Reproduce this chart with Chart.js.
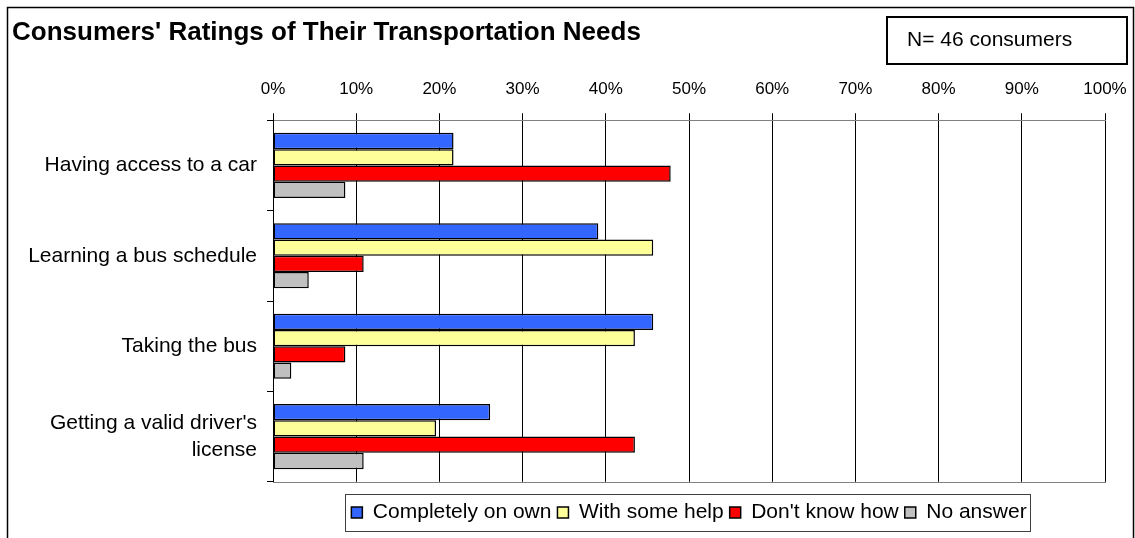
<!DOCTYPE html>
<html>
<head>
<meta charset="utf-8">
<title>Consumers' Ratings of Their Transportation Needs</title>
<script src="https://cdn.jsdelivr.net/npm/chart.js@4"></script>
<style>
  html, body { margin: 0; padding: 0; background: #fff; }
  #wrap { width: 1135px; height: 538px; }
</style>
</head>
<body>
<div id="wrap"><canvas id="transportChart"></canvas></div>
<script>
// data (percent of the 46 consumers)

const chartTitle = "Consumers' Ratings of Their Transportation Needs";
const sampleNote = "N= 46 consumers";
const categories = [
  "Having access to a car",
  "Learning a bus schedule",
  "Taking the bus",
  ["Getting a valid driver's", "license"],
];
const seriesNames = ["Completely on own", "With some help", "Don't know how", "No answer"];
const completelyOnOwn = [21.7, 39.1, 45.7, 26.1];
const withSomeHelp = [21.7, 45.7, 43.5, 19.6];
const dontKnowHow = [47.8, 10.9, 8.7, 43.5];
const noAnswer = [8.7, 4.3, 2.2, 10.9];
const xTickValues = [0, 10, 20, 30, 40, 50, 60, 70, 80, 90, 100];

const FONT = "'Liberation Sans', Arial, sans-serif";
Chart.defaults.font.family = FONT;
Chart.defaults.color = "#000";

// frames: plot area, outer border, the N box and the legend box

const framePlugin = {
  id: "frames",
  beforeDraw(chart) {
    const ctx = chart.ctx;
    const a = chart.chartArea;
    ctx.save();
    ctx.fillStyle = "#fff";
    ctx.fillRect(0, 0, chart.width, chart.height);
    ctx.strokeStyle = "#808080";
    ctx.lineWidth = 1;
    ctx.strokeRect(Math.round(a.left) + 0.5, Math.round(a.top) + 0.5,
      Math.round(a.right - a.left), Math.round(a.bottom - a.top));
    ctx.restore();
  },
  afterDraw(chart) {
    const ctx = chart.ctx;
    ctx.save();
    // outer chart border
    ctx.strokeStyle = "#000";
    ctx.lineWidth = 1.5;
    ctx.strokeRect(7.5, 7.5, 1126, 560);

    // N box
    ctx.lineWidth = 2;
    ctx.strokeRect(887, 17, 240, 47);
    ctx.fillStyle = "#000";
    ctx.font = "21px " + FONT;
    ctx.textBaseline = "middle";
    ctx.textAlign = "left";
    ctx.fillText(sampleNote, 907, 40);

    // legend border
    const boxes = chart.legend.legendHitBoxes;
    if (boxes && boxes.length) {
      const left = Math.min(...boxes.map((b) => b.left));
      const right = Math.max(...boxes.map((b) => b.left + b.width));
      const mid = boxes[0].top + boxes[0].height / 2;
      ctx.strokeStyle = "#404040";
      ctx.lineWidth = 1;
      ctx.strokeRect(Math.round(left) - 5.5, Math.round(mid) - 18.5,
        Math.round(right - left) + 10, 37);
    }
    ctx.restore();
  },
};

const ctx = document.getElementById("transportChart");

new Chart(ctx, {
  type: "bar",
  data: {
    labels: categories,
    datasets: [
      { label: seriesNames[0], data: completelyOnOwn, backgroundColor: "#3366FF" },
      { label: seriesNames[1], data: withSomeHelp, backgroundColor: "#FFFF99" },
      { label: seriesNames[2], data: dontKnowHow, backgroundColor: "#FF0000" },
      { label: seriesNames[3], data: noAnswer, backgroundColor: "#C0C0C0" },
    ],
  },
  options: {
    indexAxis: "y",
    responsive: true,
    maintainAspectRatio: false,
    animation: false,
    datasets: {
      bar: {
        borderColor: "#000",
        borderWidth: 1.5,
        borderSkipped: false,
        categoryPercentage: 0.72,
        barPercentage: 1.0,
      },
    },
    layout: {
      padding: { left: 12, top: 8, right: 30, bottom: 5 },
    },
    scales: {
      x: {
        position: "top",
        min: 0,
        max: 100,
        afterBuildTicks: (scale) => {
          scale.ticks = xTickValues.map((v) => ({ value: v }));
        },
        afterFit: (scale) => {
          scale.height = 72;
          // let the layout padding decide where the plot ends
          scale.paddingLeft = 0;
          scale.paddingRight = 0;
        },
        ticks: {
          font: { size: 17 },
          padding: 14,
          callback: (v) => v + "%",
        },
        grid: {
          color: "#000",
          lineWidth: 1,
          tickLength: 7,
        },
        border: { color: "#808080" },
      },
      y: {
        afterFit: (scale) => {
          scale.width = 261;
        },
        ticks: {
          font: { size: 21, lineHeight: 1.25 },
          padding: 10,
        },
        grid: {
          offset: true,
          drawOnChartArea: false,
          color: "#000",
          tickLength: 6,
        },
        border: { color: "#000" },
      },
    },
    plugins: {
      title: {
        display: true,
        text: chartTitle,
        align: "start",
        color: "#000",
        font: { size: 26, weight: "bold" },
        padding: { top: 9, bottom: 0 },
      },
      legend: {
        position: "bottom",
        fullSize: false,
        title: {
          display: true,
          text: "",
          font: { size: 1 },
          padding: { top: 13, bottom: 0 },
        },
        labels: {
          boxWidth: 11,
          boxHeight: 11,
          padding: 6,
          color: "#000",
          font: { size: 21 },
        },
      },
      tooltip: { enabled: false },
    },
  },
  plugins: [framePlugin],
});
</script>
</body>
</html>
